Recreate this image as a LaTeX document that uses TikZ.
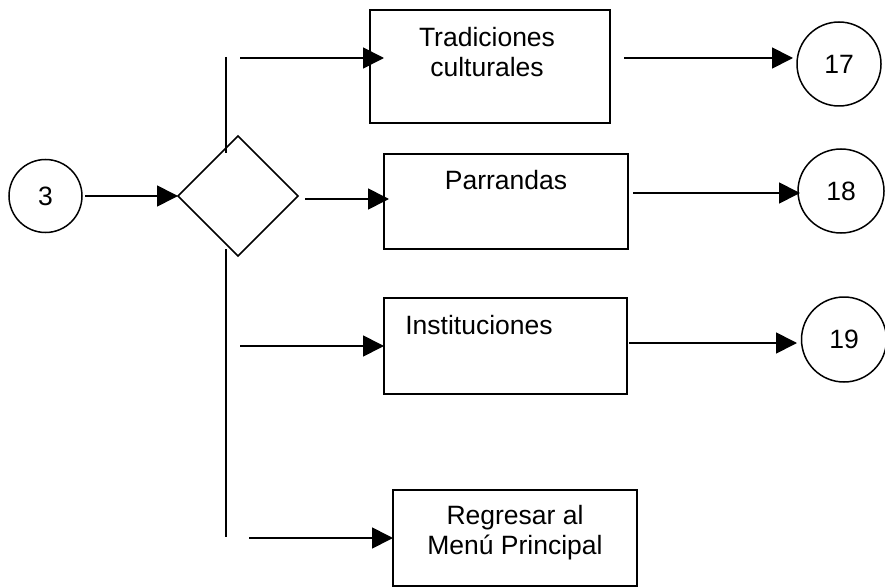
\documentclass[tikz,border=0pt]{standalone}
\usepackage{fontspec}
\setmainfont{Liberation Sans}
\usetikzlibrary{arrows.meta,shapes.geometric}
\begin{document}
\begin{tikzpicture}[x=1pt,y=-1pt,
  every node/.style={font=\fontsize{26.5}{30}\selectfont,outer sep=0pt},
  box/.style={draw,line width=1.7pt,rectangle,inner sep=0pt},
  ref/.style={draw,line width=1.5pt,ellipse,inner sep=0pt},
  decision/.style={draw,line width=1.6pt,diamond,aspect=1,inner sep=0pt,
    minimum width=120pt,minimum height=120pt},
  boxtext/.style={inner sep=0pt,align=center},
  flow/.style={line width=1.7pt,-{Triangle[length=21pt,width=21pt]}},
  bus/.style={line width=1.7pt}]
\useasboundingbox (0,0) rectangle (885,588);

% entry point and decision
\node[ref,minimum width=73pt,minimum height=73pt] (c3) at (45.5,196) {3};
\node[decision] (dec) at (238,196) {};

% option boxes
\node[box,minimum width=240pt,minimum height=113pt] (trad) at (490,66.5) {};
\node[boxtext] (tradtxt) at (487,52) {Tradiciones\\culturales};
\node[box,minimum width=244pt,minimum height=95pt] (parr) at (506,201.5) {};
\node[boxtext] (parrtxt) at (506,180) {Parrandas};
\node[box,minimum width=243pt,minimum height=96pt] (inst) at (505.5,346) {};
\node[boxtext] (insttxt) at (479,325) {Instituciones};
\node[box,minimum width=244pt,minimum height=96pt] (reg) at (515,538) {};
\node[boxtext] (regtxt) at (515,533) {Regresar al\\Menú Principal};

% off-page references
\node[ref,minimum width=84pt,minimum height=84pt] (c17) at (839,64) {17};
\node[ref,minimum width=86pt,minimum height=84pt] (c18) at (841,191) {18};
\node[ref,minimum width=85pt,minimum height=85pt] (c19) at (844,339.5) {19};

% vertical branch line beside the decision
\coordinate (busA) at (226,57);
\coordinate (busB) at (226,153);
\coordinate (busC) at (226,249);
\coordinate (busD) at (226,537);
\draw[bus] (busA) -- (busB);
\draw[bus] (busC) -- (busD);

% free ends of the branch arrows
\coordinate (br1) at (240,58);
\coordinate (br3) at (240,346);
\coordinate (br4) at (249,538);

% connectors
\draw[flow] ([xshift=3pt]c3.east) -- (dec.west);
\draw[flow] (br1) -- ([shift={(14,-8.5)}]trad.west);
\draw[flow] ([shift={(7,3)}]dec.east) -- ([shift={(5,-2.5)}]parr.west);
\draw[flow] (br3) -- (inst.west);
\draw[flow] (br4) -- (reg.west);
\draw[flow] ([shift={(14,-8.5)}]trad.east) -- ([shift={(-4,-6)}]c17.west);
\draw[flow] ([shift={(5,-8.5)}]parr.east) -- ([shift={(2,2)}]c18.west);
\draw[flow] ([shift={(2,-3)}]inst.east) -- ([shift={(-4.5,3.5)}]c19.west);
\end{tikzpicture}
\end{document}
